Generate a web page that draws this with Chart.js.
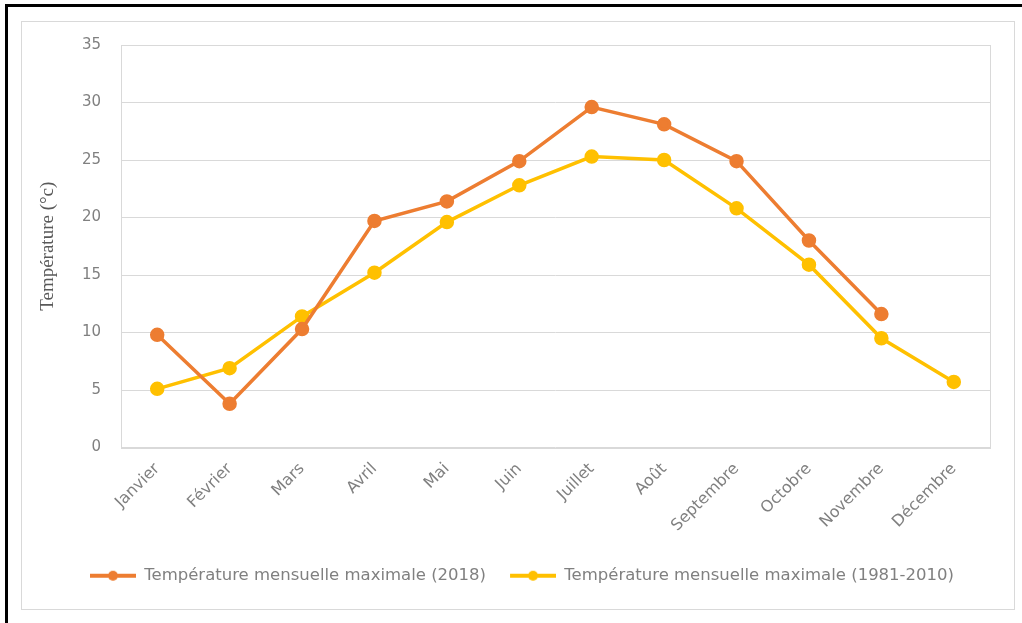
<!DOCTYPE html>
<html>
<head>
<meta charset="utf-8">
<script src="https://cdn.jsdelivr.net/npm/chart.js@4/dist/chart.umd.min.js"></script>
<style>
  body { margin: 0; background: #fff; }
  #cadre { position: absolute; left: 5px; top: 4px; width: 1017px; height: 619px;
           border-left: 3px solid #000; border-top: 3px solid #000; box-sizing: border-box; }
  #zone { position: absolute; left: 21px; top: 21px; width: 994px; height: 589px;
          border: 1px solid #d9d9d9; box-sizing: border-box; }
  #grafico { position: absolute; left: 0; top: -6px; display: block; }
</style>
</head>
<body>
<div id="cadre"></div>
<div id="zone"><canvas id="grafico" width="992" height="593"></canvas></div>
<script>
const mois = ["Janvier", "Février", "Mars", "Avril", "Mai", "Juin", "Juillet", "Août",
  "Septembre", "Octobre", "Novembre", "Décembre"];
const temp2018 = [9.8, 3.8, 10.3, 19.7, 21.4, 24.9, 29.6, 28.1, 24.9, 18.0, 11.6, null];
const tempNormale = [5.1, 6.9, 11.4, 15.2, 19.6, 22.8, 25.3, 25.0, 20.8, 15.9, 9.5, 5.7];
const graduations = [0, 5, 10, 15, 20, 25, 30, 35];

const orange = "#ED7D31";
const jaune = "#FFC000";
const gris = "#808080";

// petit dessin ligne + point pour la légende (avec un blanc devant)
function symbole(couleur) {
  const c = document.createElement("canvas");
  c.width = 60; c.height = 12;
  const g = c.getContext("2d");
  g.strokeStyle = couleur;
  g.lineWidth = 4;
  g.beginPath(); g.moveTo(14, 6); g.lineTo(60, 6); g.stroke();
  g.fillStyle = couleur;
  g.beginPath(); g.arc(37, 6, 5, 0, Math.PI * 2); g.fill();
  return c;
}

const cadrePlot = {
  id: "cadrePlot",
  afterDraw(chart) {
    const a = chart.chartArea;
    const g = chart.ctx;
    g.save();
    g.strokeStyle = "#d9d9d9";
    g.lineWidth = 1;
    g.strokeRect(Math.round(a.left) + 0.5, Math.round(a.top) + 0.5,
      Math.round(a.right - a.left), Math.round(a.bottom - a.top));
    g.restore();
  }
};

const ctx = document.getElementById("grafico").getContext("2d");
new Chart(ctx, {
  type: "line",
  data: {
    labels: mois,
    datasets: [{
      label: "Température mensuelle maximale (2018)",
      data: temp2018,
      borderColor: orange,
      backgroundColor: orange,
      borderWidth: 3.5,
      pointRadius: 5.5,
      pointStyle: "circle",
      tension: 0,
      order: 1
    }, {
      label: "Température mensuelle maximale (1981-2010)",
      data: tempNormale,
      borderColor: jaune,
      backgroundColor: jaune,
      borderWidth: 3.5,
      pointRadius: 5.5,
      pointStyle: "circle",
      tension: 0,
      order: 2
    }]
  },
  options: {
    responsive: false,
    animation: false,
    layout: { padding: { top: 17, right: 24, bottom: 15, left: 18 } },
    plugins: {
      tooltip: { enabled: false },
      legend: {
        position: "bottom",
        labels: {
          usePointStyle: true,
          pointStyleWidth: 60,
          padding: 10,
          color: gris,
          font: { family: "DejaVu Sans", size: 16.5 },
          generateLabels(chart) {
            return chart.data.datasets.map((d, i) => ({
              text: d.label,
              pointStyle: symbole(d.borderColor),
              fillStyle: d.borderColor,
              strokeStyle: d.borderColor,
              lineWidth: 0,
              fontColor: gris,
              datasetIndex: i,
              hidden: false
            }));
          }
        }
      }
    },
    scales: {
      x: {
        offset: true,
        grid: { display: false, drawTicks: false },
        border: { display: false },
        ticks: {
          color: gris,
          font: { family: "DejaVu Sans", size: 16 },
          maxRotation: 45,
          minRotation: 45,
          padding: 12,
          autoSkip: false
        },
        afterFit(s) { s.height = 110; }
      },
      y: {
        min: 0,
        max: 35,
        afterBuildTicks(s) { s.ticks = graduations.map(v => ({ value: v })); },
        grid: { color: "#d9d9d9", drawTicks: false },
        border: { display: false },
        ticks: {
          color: gris,
          font: { family: "DejaVu Sans", size: 15 },
          padding: 20
        },
        title: {
          display: true,
          text: "Température (°c)",
          color: "#595959",
          font: { family: "Liberation Serif", size: 19 },
          padding: { top: -3, bottom: 0 }
        },
        afterFit(s) { s.width = 81; }
      }
    }
  },
  plugins: [cadrePlot]
});
</script>
</body>
</html>
